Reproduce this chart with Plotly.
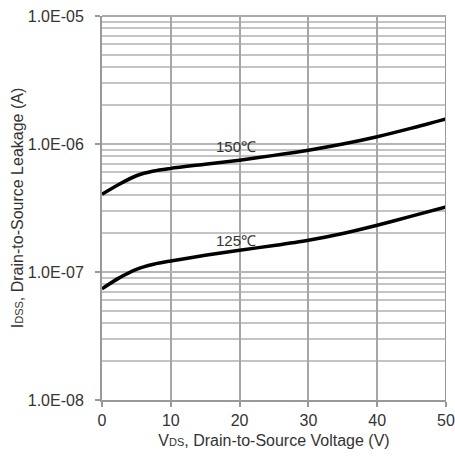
import plotly.graph_objects as go

vds = [0, 2.5, 5, 7.5, 10, 15, 20, 25, 30, 35, 40, 45, 50]
idss_150 = [4.05e-7, 4.85e-7, 5.65e-7, 6.15e-7, 6.45e-7, 6.95e-7, 7.48e-7, 8.15e-7, 8.95e-7, 1.0e-6, 1.14e-6, 1.33e-6, 1.57e-6]
idss_125 = [7.4e-8, 9.0e-8, 1.05e-7, 1.15e-7, 1.22e-7, 1.35e-7, 1.48e-7, 1.61e-7, 1.77e-7, 2.0e-7, 2.32e-7, 2.73e-7, 3.23e-7]

label_150 = "150℃"
label_125 = "125℃"

x_ticks = [0, 10, 20, 30, 40, 50]
y_ticks = [1e-8, 1e-7, 1e-6, 1e-5]
y_ticktext = ["1.0E-08", "1.0E-07", "1.0E-06", "1.0E-05"]

minor_vals = [m * d for d in [1e-8, 1e-7, 1e-6] for m in range(2, 10)]

fig = go.Figure()
for ys in (idss_150, idss_125):
    fig.add_trace(go.Scatter(x=vds, y=ys, mode="lines", line=dict(color="black", width=3.5, shape="spline", smoothing=0.8),
                             showlegend=False, hoverinfo="skip"))

fig.add_annotation(x=19.5, y=-6.02, text=label_150, showarrow=False, font=dict(size=15, color="#333"))
fig.add_annotation(x=19.5, y=-6.755, text=label_125, showarrow=False, font=dict(size=15, color="#333"))

fig.update_layout(
    width=455, height=457,
    margin=dict(l=102, r=9, t=16, b=57),
    paper_bgcolor="white", plot_bgcolor="white",
    font=dict(family="Liberation Sans, Arial, sans-serif", size=16, color="#333"),
    xaxis=dict(range=[0, 50], tickvals=x_ticks, showgrid=True, gridcolor="#a6a6a6", gridwidth=1.5, automargin=False,
               showline=True, linecolor="#999", linewidth=2, ticks="outside", ticklen=5, tickcolor="#999", tickwidth=2,
               zeroline=False, tickfont=dict(size=16), ticklabelstandoff=0,
               title=dict(text="V<span style='font-size:11px'>DS</span>, Drain-to-Source Voltage (V)", font=dict(size=16), standoff=7)),
    yaxis=dict(type="log", range=[-8, -5], tickvals=y_ticks, ticktext=y_ticktext, showgrid=True, gridcolor="#b5b5b5", gridwidth=1.5,
               showline=True, linecolor="#999", linewidth=2, ticks="outside", ticklen=5, tickcolor="#999", tickwidth=2,
               zeroline=False, tickfont=dict(size=16), automargin=False, ticklabelstandoff=8,
               minor=dict(tickvals=minor_vals, showgrid=True, gridcolor="#c4c4c4", gridwidth=1.5, ticks=""),
               title=dict(text="I<span style='font-size:11px'>DSS</span>, Drain-to-Source Leakage (A)", font=dict(size=16), standoff=0)),
)
fig.add_shape(type="line", xref="x", yref="paper", x0=50, x1=50, y0=0, y1=1, line=dict(color="#999", width=2))
fig.add_shape(type="line", xref="paper", yref="paper", x0=0, x1=1, y0=1, y1=1, line=dict(color="#aaa", width=2))

fig.write_html("out.html")
